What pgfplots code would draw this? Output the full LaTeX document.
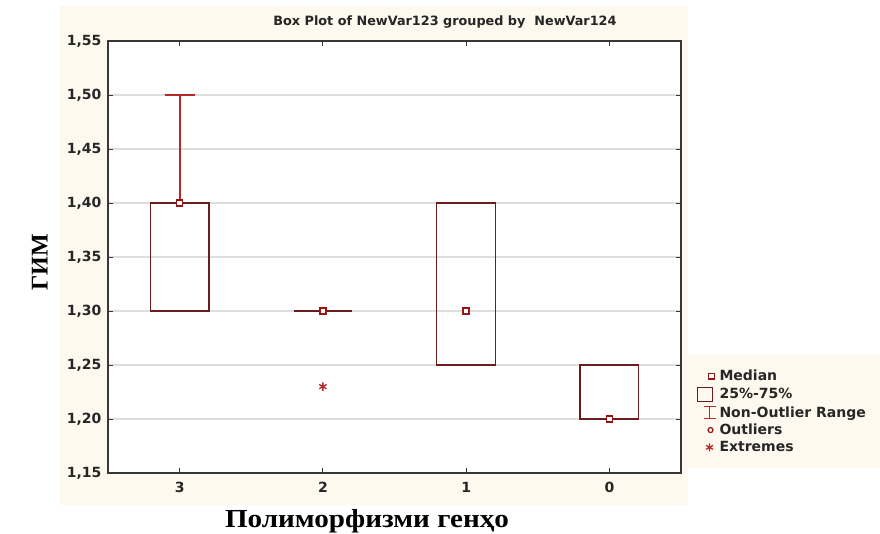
\documentclass[border=0pt]{standalone}
\usepackage{pgfplots}
\pgfplotsset{compat=1.18}
\usepackage{fontspec}
\setmainfont{Liberation Serif}
\newfontfamily\sansfont{DejaVu Sans}

\definecolor{cream}{RGB}{253,249,238}
\definecolor{boxcol}{RGB}{105,28,28}
\definecolor{whiskcol}{RGB}{185,40,40}
\definecolor{medcol}{RGB}{150,22,22}
\definecolor{gridcol}{RGB}{222,222,222}
\definecolor{framecol}{RGB}{55,55,55}

% legend icons share one invisible frame so that all texts line up
\newcommand{\legframe}{\path[draw=none, fill=none] (-16pt,-6pt) rectangle (6pt,6pt);}

\begin{document}
\begin{tikzpicture}[x=1pt,y=1pt]
\useasboundingbox (0,0) rectangle (880,533);
\fill[white] (0,0) rectangle (880,533);
% panel background and legend strip
\fill[cream] (60,28) rectangle (688,527);
\fill[cream] (688,65) rectangle (880,178);

\begin{axis}[
  at={(108pt,60pt)}, anchor=south west,
  width=573pt, height=432pt, scale only axis,
  xmin=-0.5, xmax=3.5, ymin=1.15, ymax=1.55,
  xtick={0,1,2,3}, xticklabels={3,2,1,0},
  ytick={1.15,1.20,...,1.55},
  tick align=inside, major tick length=5pt,
  tick style={framecol, line width=1pt},
  axis line style={framecol, line width=1.3pt},
  ymajorgrids, grid style={gridcol, line width=1.2pt},
  axis background/.style={fill=white},
  /pgf/number format/assume math mode=true,
  yticklabel style={/pgf/number format/fixed, /pgf/number format/fixed zerofill,
    /pgf/number format/precision=2, /pgf/number format/use comma, xshift=-3pt},
  ticklabel style={font=\sansfont\bfseries\fontsize{14}{16}\selectfont, text=black!85},
  xticklabel style={yshift=-6pt},
  title={Box Plot of NewVar123 grouped by\ \ NewVar124},
  title style={font=\sansfont\bfseries\fontsize{12.8}{15}\selectfont, text=black!85,
    at={(axis description cs:0.588,1.031)}, anchor=center},
  xlabel={Полиморфизми генҳо},
  xlabel style={font=\bfseries\fontsize{26}{30}\selectfont, xscale=1.12,
    at={(axis description cs:0.452,-0.112)}, anchor=center},
  ylabel={ГИМ},
  ylabel style={font=\bfseries\fontsize{24}{28}\selectfont,
    at={(axis description cs:-0.119,0.488)}, anchor=center},
  legend style={at={(axis description cs:1.025,0.243)}, anchor=north west,
    draw=none, fill=none, font=\sansfont\bfseries\fontsize{14}{16}\selectfont,
    row sep=3.4pt, inner sep=1pt,
    nodes={inner sep=1pt, text=black!85}},
  legend cell align=left,
]

% legend symbols
\addlegendimage{legend image code/.code={\legframe
  \draw[medcol, fill=white, line width=1.4pt, mark=square*, mark size=2.8pt]
    plot coordinates {(-1pt,0pt)};}}
\addlegendentry{Median}
\addlegendimage{legend image code/.code={\legframe
  \draw[boxcol, fill=none, line width=1.3pt] (-15pt,-7pt) rectangle (0pt,7pt);}}
\addlegendentry{25\%-75\%}
\addlegendimage{legend image code/.code={\legframe
  \draw[whiskcol, line width=1.6pt] (-3pt,-6pt) -- (-3pt,6pt)
    (-9pt,6pt) -- (3pt,6pt) (-9pt,-6pt) -- (3pt,-6pt);}}
\addlegendentry{Non-Outlier Range}
\addlegendimage{legend image code/.code={\legframe
  \draw[medcol, line width=1.2pt, mark=o, mark size=2.5pt]
    plot coordinates {(-2pt,0pt)};}}
\addlegendentry{Outliers}
\addlegendimage{legend image code/.code={\legframe
  \draw[whiskcol, line width=1.3pt, mark=asterisk, mark size=4pt]
    plot coordinates {(-3pt,0pt)};}}
\addlegendentry{Extremes}

% 25%-75% boxes (box half width 0.205)
\addplot[forget plot, boxcol, line width=1.4pt]
  coordinates {(-0.205,1.30) (0.205,1.30) (0.205,1.40) (-0.205,1.40)} -- cycle;
\addplot[forget plot, boxcol, line width=1.4pt]
  coordinates {(0.795,1.30) (1.205,1.30)};
\addplot[forget plot, boxcol, line width=1.4pt]
  coordinates {(1.795,1.25) (2.205,1.25) (2.205,1.40) (1.795,1.40)} -- cycle;
\addplot[forget plot, boxcol, line width=1.4pt]
  coordinates {(2.795,1.20) (3.205,1.20) (3.205,1.25) (2.795,1.25)} -- cycle;

% non-outlier range above the first box: 1.40 to 1.50
\addplot[forget plot, draw=whiskcol, line width=2pt]
  coordinates {(0,1.40) (0,1.50)};
\addplot[forget plot, draw=whiskcol, line width=1.8pt]
  coordinates {(-0.105,1.50) (0.105,1.50)};

% medians
\addplot[forget plot, only marks, mark=square*, mark size=3pt,
  mark options={draw=medcol, fill=white, line width=1.6pt}]
  coordinates {(0,1.40) (1,1.30) (2,1.30) (3,1.20)};

% extremes
\addplot[forget plot, only marks, mark=asterisk, mark size=4.2pt,
  mark options={draw=whiskcol, line width=1.3pt}]
  coordinates {(1,1.23)};
\end{axis}
\end{tikzpicture}
\end{document}
